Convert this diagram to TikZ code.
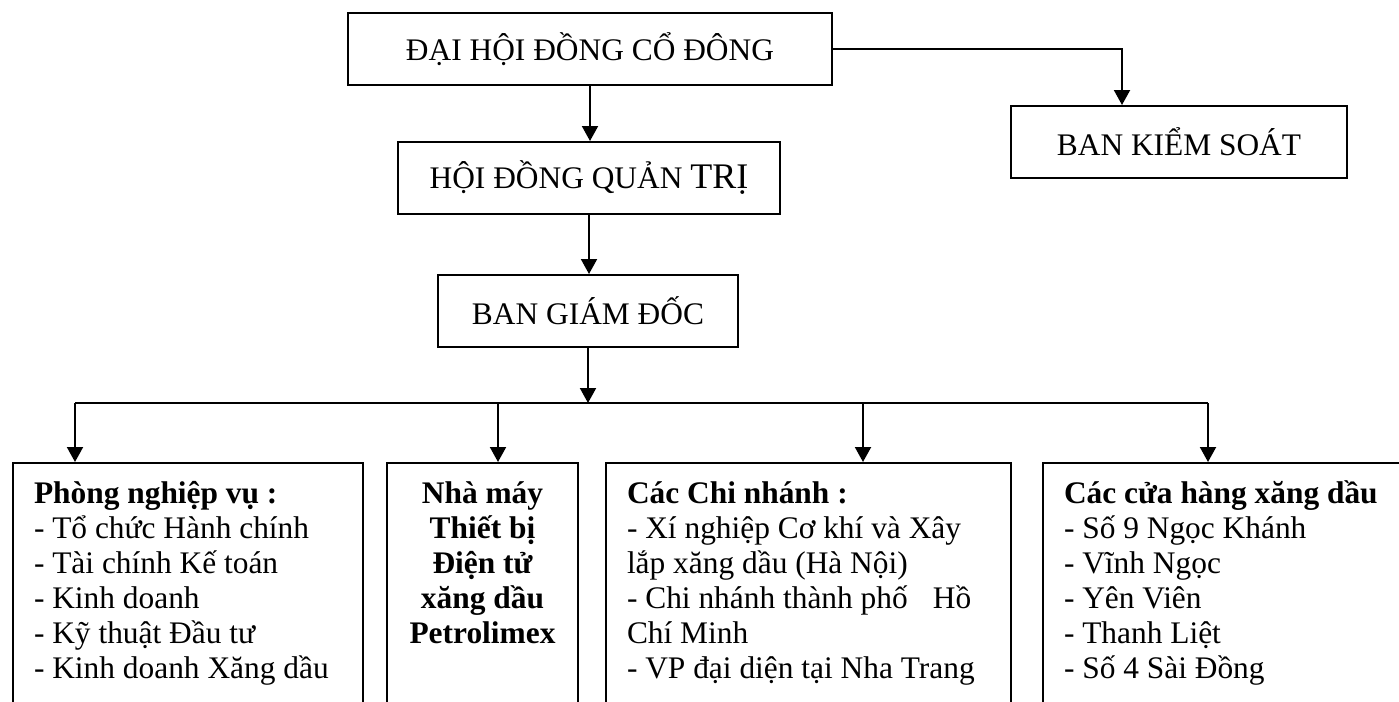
\documentclass[tikz,border=0pt]{standalone}
\usepackage{fontspec}
\setmainfont{Liberation Serif}
\usetikzlibrary{arrows.meta}

\newcommand{\khung}[2]{\parbox[t][140pt][t]{#1}{\raggedright\rule{0pt}{12.25pt}#2}}

\begin{document}
\begin{tikzpicture}[x=0.5pt,y=-0.5pt,
  font=\fontsize{15.7}{17.5}\selectfont,
  >={Triangle[length=7.5pt,width=8pt]},
  hop/.style={draw,line width=1pt,minimum height=36pt,inner sep=0pt},
  donvi/.style={draw,line width=1pt,anchor=north west,inner xsep=10.5pt,inner ysep=7.75pt},
  noi/.style={line width=1pt}]

	\useasboundingbox (0,0) rectangle (1399,702);
	\clip (0,0) rectangle (1399,702);

  %cac ban
	\node[hop,minimum width=242pt] (dhcd) at (590,49) {ĐẠI HỘI ĐỒNG CỔ ĐÔNG};
	\node[hop,minimum width=168pt] (bks) at (1179,142) {BAN KIỂM SOÁT};
	\node[hop,minimum width=191pt] (hdqt) at (589,178) {HỘI ĐỒNG QUẢN {\fontsize{18}{20}\selectfont TRỊ}};
	\node[hop,minimum width=150pt] (bgd) at (588,311) {BAN GIÁM ĐỐC};

  %cac don vi
	\node[donvi] (pnv) at (12,462) {\khung{154pt}{\textbf{Phòng nghiệp vụ :}\\- Tổ chức Hành chính\\- Tài chính Kế toán\\- Kinh doanh\\- Kỹ thuật Đầu tư\\- Kinh doanh Xăng dầu}};
	\node[donvi,inner xsep=4pt] (nm) at (386,462) {\khung{87.5pt}{\centering\bfseries Nhà máy\\Thiết bị\\Điện tử\\xăng dầu\\Petrolimex}};
	\node[donvi] (cn) at (605,462) {\khung{181.5pt}{\textbf{Các Chi nhánh :}\\- Xí nghiệp Cơ khí và Xây\\lắp xăng dầu (Hà Nội)\\- Chi nhánh thành phố\hspace{0.55em} Hồ\\Chí Minh\\- VP đại diện tại Nha Trang}};
	\node[donvi] (ch) at (1042,462) {\khung{170pt}{\textbf{Các cửa hàng xăng dầu}\\- Số 9 Ngọc Khánh\\- Vĩnh Ngọc\\- Yên Viên\\- Thanh Liệt\\- Số 4 Sài Đồng}};

  %mui ten tren
	\coordinate (gap) at (1122,49);
	\draw[noi,->] (dhcd.east) -- (gap) -- (gap |- bks.north);
	\draw[noi,->] (dhcd.south) -- (dhcd.south |- hdqt.north);
	\draw[noi,->] (hdqt.south) -- (hdqt.south |- bgd.north);

  %thanh ngang va mui ten duoi
	\coordinate (b1) at (75,403);
	\coordinate (b2) at (498,403);
	\coordinate (b3) at (863,403);
	\coordinate (b4) at (1208,403);
	\draw[noi,->] (bgd.south) -- (bgd.south |- b1);
	\draw[noi] (b1) -- (b4);
	\draw[noi,->] (b1) -- (b1 |- pnv.north);
	\draw[noi,->] (b2) -- (b2 |- nm.north);
	\draw[noi,->] (b3) -- (b3 |- cn.north);
	\draw[noi,->] (b4) -- (b4 |- ch.north);

\end{tikzpicture}
\end{document}
